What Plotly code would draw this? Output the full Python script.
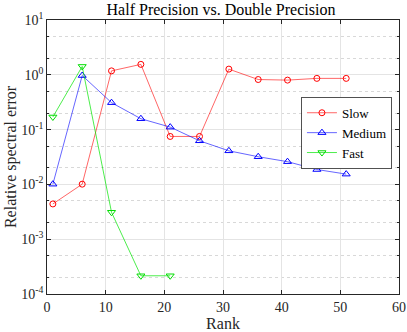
import plotly.graph_objects as go

# data
rank = [1, 6, 11, 16, 21, 26, 31, 36, 41, 46, 51]
slow = [0.0044, 0.0101, 1.18, 1.55, 0.075, 0.075, 1.27, 0.82, 0.80, 0.86, 0.86]
medium = [0.0101, 0.97, 0.31, 0.158, 0.111, 0.0625, 0.041, 0.032, 0.026, 0.0187, 0.0154]
fast_rank = [1, 6, 11, 16, 21]
fast = [0.17, 1.42, 0.0031, 0.000215, 0.000215]

y_ticks = [1e-4, 1e-3, 1e-2, 1e-1, 1, 10]
y_labels = ["10<sup>-4</sup>", "10<sup>-3</sup>", "10<sup>-2</sup>",
            "10<sup>-1</sup>", "10<sup>0</sup>", "10<sup>1</sup>"]

FONT = "Liberation Serif, Times New Roman, serif"

fig = go.Figure()
fig.add_trace(go.Scatter(x=rank, y=slow, name="Slow", mode="lines+markers",
                         line=dict(color="rgba(255,0,0,0.6)", width=1),
                         marker=dict(symbol="circle-open", size=6, color="#ff0000")))
fig.add_trace(go.Scatter(x=rank, y=medium, name="Medium", mode="lines+markers",
                         line=dict(color="rgba(0,0,255,0.6)", width=1),
                         marker=dict(symbol="triangle-up-open", size=7, color="#0000ff")))
fig.add_trace(go.Scatter(x=fast_rank, y=fast, name="Fast", mode="lines+markers",
                         line=dict(color="rgba(0,230,0,0.7)", width=1),
                         marker=dict(symbol="triangle-down-open", size=7, color="#00dd00")))

fig.update_layout(
    width=407, height=332,
    margin=dict(l=47, r=8, t=20, b=38),
    paper_bgcolor="white", plot_bgcolor="white",
    font=dict(family=FONT, size=14, color="#262626"),
    title=dict(text="Half Precision vs. Double Precision", x=0.543, xanchor="center",
               y=0.973, yanchor="middle", font=dict(size=16, color="black")),
    legend=dict(x=0.722, y=0.719, xanchor="left", yanchor="top",
                bgcolor="white", bordercolor="#262626", borderwidth=0.8,
                font=dict(size=13, color="black"), tracegroupgap=0,
                itemwidth=30),
    showlegend=True,
)
fig.update_xaxes(range=[0, 60], dtick=10, automargin=False,
                 title=dict(text="Rank", standoff=0, font=dict(size=16)),
                 showline=True, linecolor="#262626", linewidth=0.8, mirror="ticks",
                 ticks="inside", ticklen=4, tickcolor="#262626",
                 showgrid=True, gridcolor="#e4e4e4", gridwidth=0.8, zeroline=False)
fig.update_yaxes(type="log", range=[-4, 1], tickvals=y_ticks, ticktext=y_labels,
                 automargin=False,
                 title=dict(text="Relative spectral error", standoff=0, font=dict(size=16)),
                 showline=True, linecolor="#262626", linewidth=0.8, mirror="ticks",
                 ticks="inside", ticklen=4, tickcolor="#262626",
                 showgrid=True, gridcolor="#e4e4e4", gridwidth=0.8, zeroline=False,
                 minor=dict(showgrid=True, gridcolor="#d8d8d8", griddash="dot",
                            ticks="inside", ticklen=2, tickcolor="#262626"))

# the page's default body margin would shift the figure by 8px
fig.write_html("out.html", config={"displayModeBar": False},
               post_script="document.body.style.margin='0';")
